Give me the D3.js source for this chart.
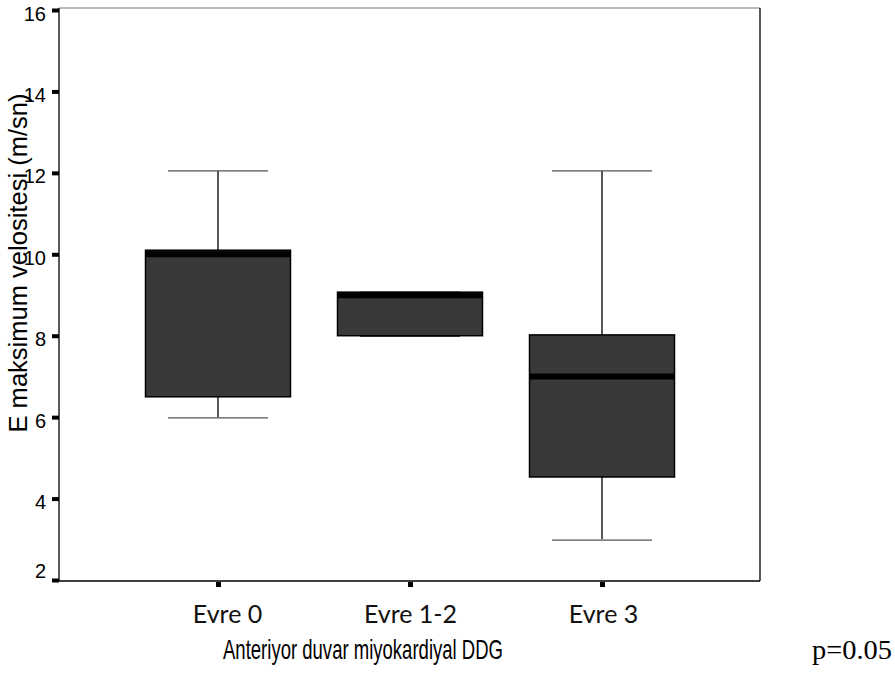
<!DOCTYPE html>
<html>
<head>
<meta charset="utf-8">
<script src="https://cdn.jsdelivr.net/npm/d3@7"></script>
<style>
  html, body { margin: 0; padding: 0; background: #fff; }
  svg { display: block; }
</style>
</head>
<body>
<script>
// ---- data ----
const categories = ["Evre 0", "Evre 1-2", "Evre 3"];
const whiskerLow  = [6.0, 8.0, 3.0];
const q1          = [6.5, 8.0, 4.53];
const median      = [10.0, 9.0, 7.0];
const q3          = [10.1, 9.07, 8.02];
const whiskerHigh = [12.05, 9.07, 12.05];
const yTicks = [2, 4, 6, 8, 10, 12, 14, 16];
const yTitle = "E maksimum velositesi (m/sn)";
const xTitle = "Anteriyor duvar miyokardiyal DDG";
const pNote = "p=0.05";

const W = 895, H = 691;
const frame = { left: 59, right: 760, top: 8, bottom: 581 };
const labelShift = { "Evre 0": 9, "Evre 1-2": 0, "Evre 3": 1 };

const svg = d3.select("body").append("svg").attr("width", W).attr("height", H);

const y = d3.scaleLinear().domain([2, 16]).range([580, 10]);
const x = d3.scalePoint().domain(categories).range([218, 602]);

const boxW = 145, capW = 100;

const data = categories.map((c, i) => ({
  cat: c, lo: whiskerLow[i], q1: q1[i], med: median[i], q3: q3[i], hi: whiskerHigh[i]
}));

// frame
svg.append("line").attr("x1", frame.left).attr("x2", frame.right)
  .attr("y1", frame.top).attr("y2", frame.top).attr("stroke", "#777").attr("stroke-width", 1.2);
svg.append("line").attr("x1", frame.right).attr("x2", frame.right)
  .attr("y1", frame.top).attr("y2", frame.bottom).attr("stroke", "#000").attr("stroke-width", 1.3);

// boxes
const g = svg.append("g");
const bx = g.selectAll("g.box").data(data).join("g").attr("class", "box");

// whiskers
bx.append("line")
  .attr("x1", d => x(d.cat)).attr("x2", d => x(d.cat))
  .attr("y1", d => y(d.hi)).attr("y2", d => y(d.q3))
  .attr("stroke", "#000").attr("stroke-width", 1.3);
bx.append("line")
  .attr("x1", d => x(d.cat)).attr("x2", d => x(d.cat))
  .attr("y1", d => y(d.q1)).attr("y2", d => y(d.lo))
  .attr("stroke", "#000").attr("stroke-width", 1.3);
// caps
bx.append("line")
  .attr("x1", d => x(d.cat) - capW / 2).attr("x2", d => x(d.cat) + capW / 2)
  .attr("y1", d => y(d.hi)).attr("y2", d => y(d.hi))
  .attr("stroke", "#555").attr("stroke-width", 1.2);
bx.append("line")
  .attr("x1", d => x(d.cat) - capW / 2).attr("x2", d => x(d.cat) + capW / 2)
  .attr("y1", d => y(d.lo) + 0.8).attr("y2", d => y(d.lo) + 0.8)
  .attr("stroke", "#555").attr("stroke-width", 1.2);
// box rect
bx.append("rect")
  .attr("x", d => x(d.cat) - boxW / 2)
  .attr("width", boxW)
  .attr("y", d => y(d.q3))
  .attr("height", d => y(d.q1) - y(d.q3))
  .attr("fill", "#393939").attr("stroke", "#000").attr("stroke-width", 1.5);
// median
bx.append("line")
  .attr("x1", d => x(d.cat) - boxW / 2).attr("x2", d => x(d.cat) + boxW / 2)
  .attr("y1", d => Math.max(y(d.med), y(d.q3) + 3)).attr("y2", d => Math.max(y(d.med), y(d.q3) + 3))
  .attr("stroke", "#000").attr("stroke-width", 6);

// y axis
const yAxis = d3.axisLeft(y).tickValues(yTicks).tickSize(7).tickPadding(6).tickFormat(d3.format("d"));
const ya = svg.append("g").attr("transform", `translate(${frame.left},0)`).call(yAxis);
ya.select(".domain").remove();
ya.selectAll(".tick line").attr("stroke", "#000").attr("stroke-width", 4);
ya.selectAll(".tick text")
  .style("font-family", "'Liberation Sans', Arial, sans-serif")
  .style("font-size", "20px").attr("fill", "#000")
  .attr("dy", null)
  .attr("y", d => d === 2 ? -3 : 10);
svg.append("line").attr("x1", frame.left).attr("x2", frame.left)
  .attr("y1", frame.top).attr("y2", frame.bottom).attr("stroke", "#000").attr("stroke-width", 1.3);

// x axis
const xAxis = d3.axisBottom(x).tickSize(6).tickPadding(0);
const xa = svg.append("g").attr("transform", `translate(0,${frame.bottom})`).call(xAxis);
xa.select(".domain").remove();
xa.selectAll(".tick line").attr("stroke", "#000").attr("stroke-width", 5).attr("y1", 1);
xa.selectAll(".tick text")
  .style("font-family", "Lato, 'Open Sans', sans-serif")
  .style("font-size", "25px").attr("fill", "#111")
  .attr("dy", null).attr("y", 42)
  .attr("x", d => labelShift[d]);
svg.append("line").attr("x1", frame.left).attr("x2", frame.right)
  .attr("y1", frame.bottom).attr("y2", frame.bottom).attr("stroke", "#000").attr("stroke-width", 1.3);

// titles
svg.append("text")
  .attr("transform", "translate(27,263) rotate(-90)")
  .attr("text-anchor", "middle")
  .style("font-family", "'Liberation Sans', Arial, sans-serif")
  .style("font-size", "26px")
  .attr("textLength", 339).attr("lengthAdjust", "spacingAndGlyphs")
  .attr("fill", "#000")
  .text(yTitle);

svg.append("text")
  .attr("x", 223).attr("y", 659)
  .style("font-family", "'Liberation Sans', Arial, sans-serif")
  .style("font-size", "28px")
  .attr("textLength", 280).attr("lengthAdjust", "spacingAndGlyphs")
  .attr("fill", "#000")
  .text(xTitle);

svg.append("text")
  .attr("x", 812).attr("y", 659)
  .style("font-family", "'Liberation Serif', 'Times New Roman', serif")
  .style("font-size", "27px")
  .attr("textLength", 80).attr("lengthAdjust", "spacingAndGlyphs")
  .attr("fill", "#000")
  .text(pNote);
</script>
</body>
</html>
